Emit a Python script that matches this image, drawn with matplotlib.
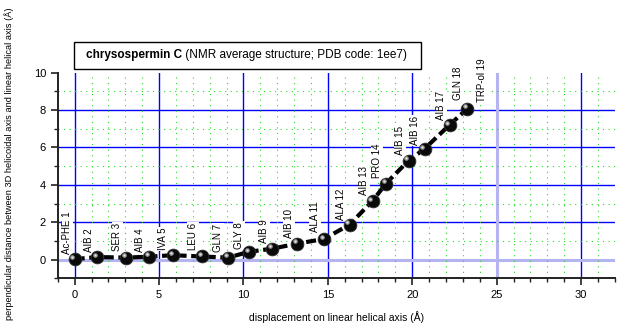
import numpy as np
import matplotlib
matplotlib.use("Agg")
import matplotlib.pyplot as plt
from matplotlib.ticker import MultipleLocator
from matplotlib.patches import Rectangle
import matplotlib.transforms as mtransforms

plt.rcParams['font.family'] = ['Liberation Sans', 'DejaVu Sans']

# положения остатков (Å)
disp_x = [0.0, 1.32, 3.04, 4.41, 5.81, 7.55, 9.08, 10.33, 11.71, 13.2,
          14.79, 16.29, 17.65, 18.44, 19.79, 20.73, 22.22, 23.26]
perp_y = [0.03, 0.14, 0.11, 0.16, 0.24, 0.17, 0.11, 0.42, 0.59, 0.86,
          1.11, 1.88, 3.14, 4.07, 5.30, 5.93, 7.21, 8.07]

# подписи остатков и их места
residues = ["Ac-PHE 1", "AIB 2", "SER 3", "AIB 4", "IVA 5", "LEU 6", "GLN 7",
            "GLY 8", "AIB 9", "AIB 10", "ALA 11", "ALA 12", "AIB 13", "PRO 14",
            "AIB 15", "AIB 16", "AIB 17", "GLN 18", "TRP-ol 19"]
label_x = [-0.47, 0.85, 2.53, 3.87, 5.25, 7.0, 8.5, 9.75, 11.23, 12.68,
           14.24, 15.78, 17.14, 17.89, 19.27, 20.16, 21.7, 22.69, 24.15]
label_y = [0.30, 0.43, 0.48, 0.43, 0.52, 0.52, 0.43, 0.57, 0.87, 1.16,
           1.50, 2.13, 3.47, 4.36, 5.6, 6.13, 7.48, 8.55, 8.45]

blue_x = [0, 5, 10, 15, 20, 30]
blue_y = [2, 4, 6, 8]

fig = plt.figure(figsize=(6.23, 3.33), dpi=100)
ax = fig.add_axes([0.0928, 0.164, 0.894, 0.618])
ax.set_xlim(-1, 32)
ax.set_ylim(-1, 10)

# сетка
ax.xaxis.set_major_locator(MultipleLocator(5))
ax.xaxis.set_minor_locator(MultipleLocator(1))
ax.yaxis.set_major_locator(MultipleLocator(2))
ax.yaxis.set_minor_locator(MultipleLocator(1))
ax.grid(which='minor', color='#22dd22', linestyle=(0, (1, 4)), linewidth=0.8)
for v in blue_x:
    ax.axvline(v, color='#0000ff', linewidth=1.0, zorder=1)
for h in blue_y:
    ax.axhline(h, color='#0000ff', linewidth=1.0, zorder=1)
ax.axvline(25, color='#b4b4f0', linewidth=2.2, zorder=1)
ax.axhline(0, color='#b4b4f0', linewidth=2.2, zorder=1)

# линия и шарики
ax.plot(disp_x, perp_y, color='black', linewidth=3, linestyle=(0, (2.4, 1.1)), zorder=3)
ax.plot(disp_x, perp_y, linestyle='none', marker='o', markersize=9.2,
        markerfacecolor='#0a0a0a', markeredgecolor='#333333', markeredgewidth=0.6, zorder=4)
hl = mtransforms.offset_copy(ax.transData, fig=fig, x=-1.6, y=1.6, units='points')
ax.plot(disp_x, perp_y, linestyle='none', marker='o', markersize=3.3,
        markerfacecolor='#9a9a9a', markeredgecolor='none', transform=hl, zorder=5)
ax.plot(disp_x, perp_y, linestyle='none', marker='o', markersize=1.4,
        markerfacecolor='#e8e8e8', markeredgecolor='none', transform=hl, zorder=6)

for name, lx, ly in zip(residues, label_x, label_y):
    ax.text(lx, ly, name, rotation=90, ha='center', va='bottom', fontsize=7,
            bbox=dict(facecolor='white', edgecolor='none', pad=0.6), zorder=2.5)

# оси
for s in ['top', 'right']:
    ax.spines[s].set_visible(False)
for s in ['left', 'bottom']:
    ax.spines[s].set_linewidth(1.4)
    ax.spines[s].set_color('#222222')
ax.tick_params(which='major', direction='out', length=5, width=1.2, labelsize=8, colors='#222222')
ax.tick_params(which='minor', direction='out', length=3, width=1.0, colors='#222222')
ax.tick_params(axis='both', labelcolor='black')

ax.set_xlabel("displacement on linear helical axis (Å)", fontsize=7.5, labelpad=8)
ax.set_ylabel("perpendicular distance between 3D helicoidal axis and linear helical axis (Å)",
              fontsize=6.7)
ax.yaxis.set_label_coords(-0.079, 0.556)

# заголовок в рамке
fig.add_artist(Rectangle((74 / 623, 1 - 68.5 / 333), 347 / 623, 26.5 / 333,
                         transform=fig.transFigure, facecolor='white',
                         edgecolor='black', linewidth=1.0, zorder=5))
t1 = fig.text(85.5 / 623, 1 - 55 / 333, "chrysospermin C", fontsize=8.5,
              fontweight='bold', ha='left', va='center', zorder=6)
fig.canvas.draw()
bb = t1.get_window_extent().transformed(fig.transFigure.inverted())
fig.text(bb.x1, 1 - 55 / 333, " (NMR average structure; PDB code: 1ee7)",
         fontsize=8.5, ha='left', va='center', zorder=6)

fig.savefig("out.png", dpi=100)
